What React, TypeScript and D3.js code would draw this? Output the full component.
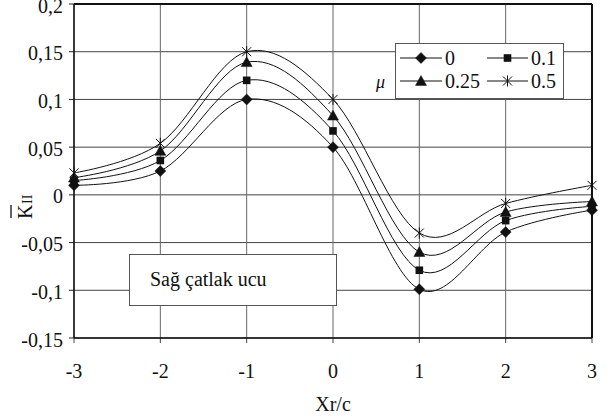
import React from "react";
import * as d3 from "d3";

const xValues = [-3, -2, -1, 0, 1, 2, 3];
const seriesNames = ["0", "0.1", "0.25", "0.5"];
const mu0 = [0.01, 0.025, 0.1, 0.05, -0.099, -0.039, -0.016];
const mu01 = [0.015, 0.036, 0.12, 0.067, -0.079, -0.027, -0.012];
const mu025 = [0.018, 0.046, 0.139, 0.083, -0.06, -0.018, -0.007];
const mu05 = [0.023, 0.054, 0.15, 0.1, -0.04, -0.009, 0.01];
const yTicks = [-0.15, -0.1, -0.05, 0, 0.05, 0.1, 0.15, 0.2];
const yTickLabels = ["-0,15", "-0,1", "-0,05", "0", "0,05", "0,1", "0,15", "0,2"];
const xTickLabels = ["-3", "-2", "-1", "0", "1", "2", "3"];
const markerKinds = ["diamond", "square", "triangle", "star"];

const FONT = "'Times New Roman', 'Liberation Serif', Tinos, 'DejaVu Serif', serif";
const TS = { fontFamily: FONT };

function Marker({ kind, x, y }: { kind: string; x: number; y: number }) {
  if (kind === "diamond") {
    const s = 5.5;
    return <path d={`M${x},${y - s}L${x + s},${y}L${x},${y + s}L${x - s},${y}Z`} fill="#111" stroke="#111" strokeWidth={0.5} />;
  }
  if (kind === "square") {
    const s = 3.8;
    return <rect x={x - s} y={y - s} width={2 * s} height={2 * s} fill="#111" />;
  }
  if (kind === "triangle") {
    const s = 5.5;
    return <path d={`M${x},${y - s}L${x + s},${y + s * 0.8}L${x - s},${y + s * 0.8}Z`} fill="#111" stroke="#111" strokeWidth={0.5} />;
  }
  const s = 4.5;
  return (
    <g stroke="#111" strokeWidth={1}>
      <line x1={x - s} y1={y - s} x2={x + s} y2={y + s} />
      <line x1={x - s} y1={y + s} x2={x + s} y2={y - s} />
      <line x1={x} y1={y - s - 1} x2={x} y2={y + s + 1} />
    </g>
  );
}

export default function App() {
  const W = 611, H = 419;
  const x = d3.scaleLinear().domain([-3, 3]).range([74, 592]);
  const y = d3.scaleLinear().domain([-0.15, 0.2]).range([338, 4]);
  const all = [mu0, mu01, mu025, mu05];
  const line = d3
    .line<number>()
    .x((_, i) => x(xValues[i]))
    .y((d) => y(d))
    .curve(d3.curveCardinal.tension(0));

  const legendRows = [
    { ly: 58, items: [0, 1] },
    { ly: 81, items: [2, 3] },
  ];
  const legendCols = [{ x1: 400, x2: 442, tx: 445 }, { x1: 487, x2: 528, tx: 531 }];

  return (
    <svg width={W} height={H} style={{ position: "absolute", left: 0, top: 0, background: "#fff", fontFamily: FONT }}>
      <rect x={0} y={0} width={W} height={H} fill="#fff" />
      {yTicks.map((t) => (
        <line key={"gy" + t} x1={x(-3)} x2={x(3)} y1={y(t)} y2={y(t)} stroke="#444" strokeWidth={1} />
      ))}
      {xValues.map((t) => (
        <line key={"gx" + t} x1={x(t)} x2={x(t)} y1={y(0.2)} y2={y(-0.15)} stroke="#666" strokeWidth={1} />
      ))}
      {yTicks.map((t) => (
        <line key={"ty" + t} x1={x(-3) - 5} x2={x(-3)} y1={y(t)} y2={y(t)} stroke="#222" strokeWidth={1} />
      ))}
      {xValues.map((t) => (
        <line key={"tx" + t} x1={x(t)} x2={x(t)} y1={y(-0.15)} y2={y(-0.15) + 5} stroke="#444" strokeWidth={1} />
      ))}
      <line x1={x(-3)} x2={x(3)} y1={y(0.2)} y2={y(0.2)} stroke="#111" strokeWidth={2} />
      <line x1={x(3)} x2={x(3)} y1={y(0.2)} y2={y(-0.15)} stroke="#111" strokeWidth={2} />
      <line x1={x(-3)} x2={x(3)} y1={y(-0.15)} y2={y(-0.15)} stroke="#111" strokeWidth={1.5} />
      <line x1={x(-3)} x2={x(-3)} y1={y(0.2)} y2={y(-0.15)} stroke="#111" strokeWidth={1.5} />

      <rect x={129.5} y={254.5} width={207} height={51} fill="#fff" stroke="#555" strokeWidth={1} />
      <text x={150} y={286} fontSize={20} fill="#111" style={TS}>Sağ çatlak ucu</text>

      {all.map((s, si) => (
        <path key={"l" + si} d={line(s) || ""} fill="none" stroke="#111" strokeWidth={1} />
      ))}
      {all.map((s, si) =>
        s.map((v, i) => <Marker key={"m" + si + "-" + i} kind={markerKinds[si]} x={x(xValues[i])} y={y(v)} />)
      )}

      {yTicks.map((t, i) => (
        <text key={"yl" + t} x={63} y={y(t) + 8.5} textAnchor="end" fontSize={20} fill="#111" style={TS}>
          {yTickLabels[i]}
        </text>
      ))}
      {xValues.map((t, i) => (
        <text key={"xl" + t} x={x(t)} y={378} textAnchor="middle" fontSize={20} fill="#111" style={TS}>
          {xTickLabels[i]}
        </text>
      ))}
      <text x={333} y={411} textAnchor="middle" fontSize={20} fill="#111" style={TS}>Xr/c</text>

      <g transform="translate(32,219) rotate(-90)">
        <text x={0} y={0} fontSize={20} fill="#111" style={TS}>K</text>
        <line x1={1} x2={14} y1={-21} y2={-21} stroke="#111" strokeWidth={1.3} />
        <text x={15} y={0} fontSize={14} fill="#111" style={TS}>II</text>
      </g>

      <rect x={395.5} y={43.5} width={168} height={55} fill="#fff" stroke="#555" strokeWidth={1} />
      {legendRows.map((r) =>
        r.items.map((si, ci) => {
          const c = legendCols[ci];
          return (
            <g key={"lg" + si}>
              <line x1={c.x1} x2={c.x2} y1={r.ly} y2={r.ly} stroke="#111" strokeWidth={1} />
              <Marker kind={markerKinds[si]} x={(c.x1 + c.x2) / 2} y={r.ly} />
              <text x={c.tx} y={r.ly + 7} fontSize={20} fill="#111" style={TS}>{seriesNames[si]}</text>
            </g>
          );
        })
      )}
      <text x={376} y={88} fontSize={18} fontStyle="italic" fill="#111" style={TS}>μ</text>
    </svg>
  );
}
